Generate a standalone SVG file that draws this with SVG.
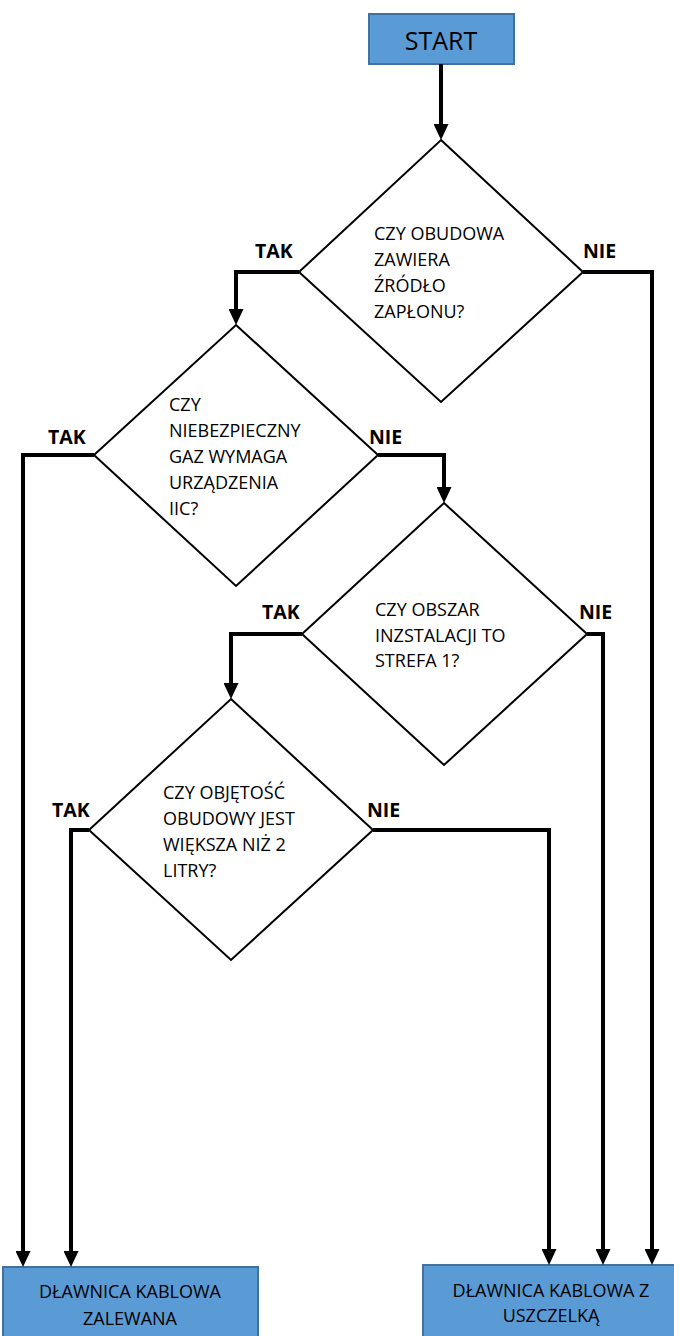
<svg xmlns="http://www.w3.org/2000/svg" width="674" height="1336" viewBox="0 0 674 1336">
<defs>
<marker id="arr" markerUnits="userSpaceOnUse" markerWidth="16" markerHeight="15" viewBox="0 0 16 15" refX="2" refY="7.5" orient="auto">
<path d="M0,0 L16,7.5 L0,15 z" fill="#000"/>
</marker>
<style>
.box{fill:#5b9bd5;stroke:#41719c;stroke-width:2}
.dia{fill:#fff;stroke:#000;stroke-width:2;stroke-linejoin:miter}
.q{font-family:"Open Sans","Noto Sans",sans-serif;font-size:18px;fill:#000}
.lbl{font-family:"Open Sans","Noto Sans",sans-serif;font-size:19.5px;font-weight:bold;fill:#000}
.bt{font-family:"Open Sans","Noto Sans",sans-serif;font-size:18px;fill:#000;text-anchor:middle}
.st{font-family:"Open Sans","Noto Sans",sans-serif;font-size:25px;fill:#000;text-anchor:middle}
.c{fill:none;stroke:#000;stroke-width:4;stroke-linejoin:miter;marker-end:url(#arr)}
</style>
</defs>
<rect width="674" height="1336" fill="#fff"/>

<g id="start">
<rect class="box" x="369" y="14" width="145" height="50"/>
<text class="st" x="441" y="50">START</text>
</g>

<g id="d1">
<polygon class="dia" points="441,140 583,272 441,402 299,272"/>
<text class="q" x="374" y="240">CZY OBUDOWA</text>
<text class="q" x="374" y="266">ZAWIERA</text>
<text class="q" x="374" y="292">ŹRÓDŁO</text>
<text class="q" x="374" y="318">ZAPŁONU?</text>
</g>

<g id="d2">
<polygon class="dia" points="236,325 378,455 236,586 94,455"/>
<text class="q" x="169" y="411">CZY</text>
<text class="q" x="169" y="437">NIEBEZPIECZNY</text>
<text class="q" x="169" y="463">GAZ WYMAGA</text>
<text class="q" x="169" y="489">URZĄDZENIA</text>
<text class="q" x="169" y="515">IIC?</text>
</g>

<g id="d3">
<polygon class="dia" points="444,503 587,634 444,765 302,634"/>
<text class="q" x="375" y="616">CZY OBSZAR</text>
<text class="q" x="375" y="642">INZSTALACJI TO</text>
<text class="q" x="375" y="667">STREFA 1?</text>
</g>

<g id="d4">
<polygon class="dia" points="231,699 373,830 231,960 89,830"/>
<text class="q" x="163" y="799">CZY OBJĘTOŚĆ</text>
<text class="q" x="163" y="825">OBUDOWY JEST</text>
<text class="q" x="163" y="851">WIĘKSZA NIŻ 2</text>
<text class="q" x="163" y="877">LITRY?</text>
</g>

<g id="end1">
<rect class="box" x="3" y="1267" width="255" height="80"/>
<text class="bt" x="130" y="1298">DŁAWNICA KABLOWA</text>
<text class="bt" x="130" y="1325">ZALEWANA</text>
</g>

<g id="end2">
<rect class="box" x="423" y="1265" width="260" height="80"/>
<text class="bt" x="551" y="1297">DŁAWNICA KABLOWA Z</text>
<text class="bt" x="551" y="1322">USZCZELKĄ</text>
</g>

<g id="connectors">
<path class="c" d="M441,64 V126"/>
<path class="c" d="M299,272 H236 V311"/>
<path class="c" d="M583,272 H652 V1251"/>
<path class="c" d="M94,455 H23 V1253"/>
<path class="c" d="M378,455 H444 V489"/>
<path class="c" d="M302,634 H231 V685"/>
<path class="c" d="M587,634 H603 V1251"/>
<path class="c" d="M89,830 H71 V1253"/>
<path class="c" d="M373,830 H549 V1251"/>
</g>

<g id="labels">
<text class="lbl" x="255" y="258">TAK</text>
<text class="lbl" x="583" y="258">NIE</text>
<text class="lbl" x="48" y="444">TAK</text>
<text class="lbl" x="369" y="444">NIE</text>
<text class="lbl" x="262" y="619">TAK</text>
<text class="lbl" x="579" y="619">NIE</text>
<text class="lbl" x="52" y="817">TAK</text>
<text class="lbl" x="367" y="817">NIE</text>
</g>
</svg>
